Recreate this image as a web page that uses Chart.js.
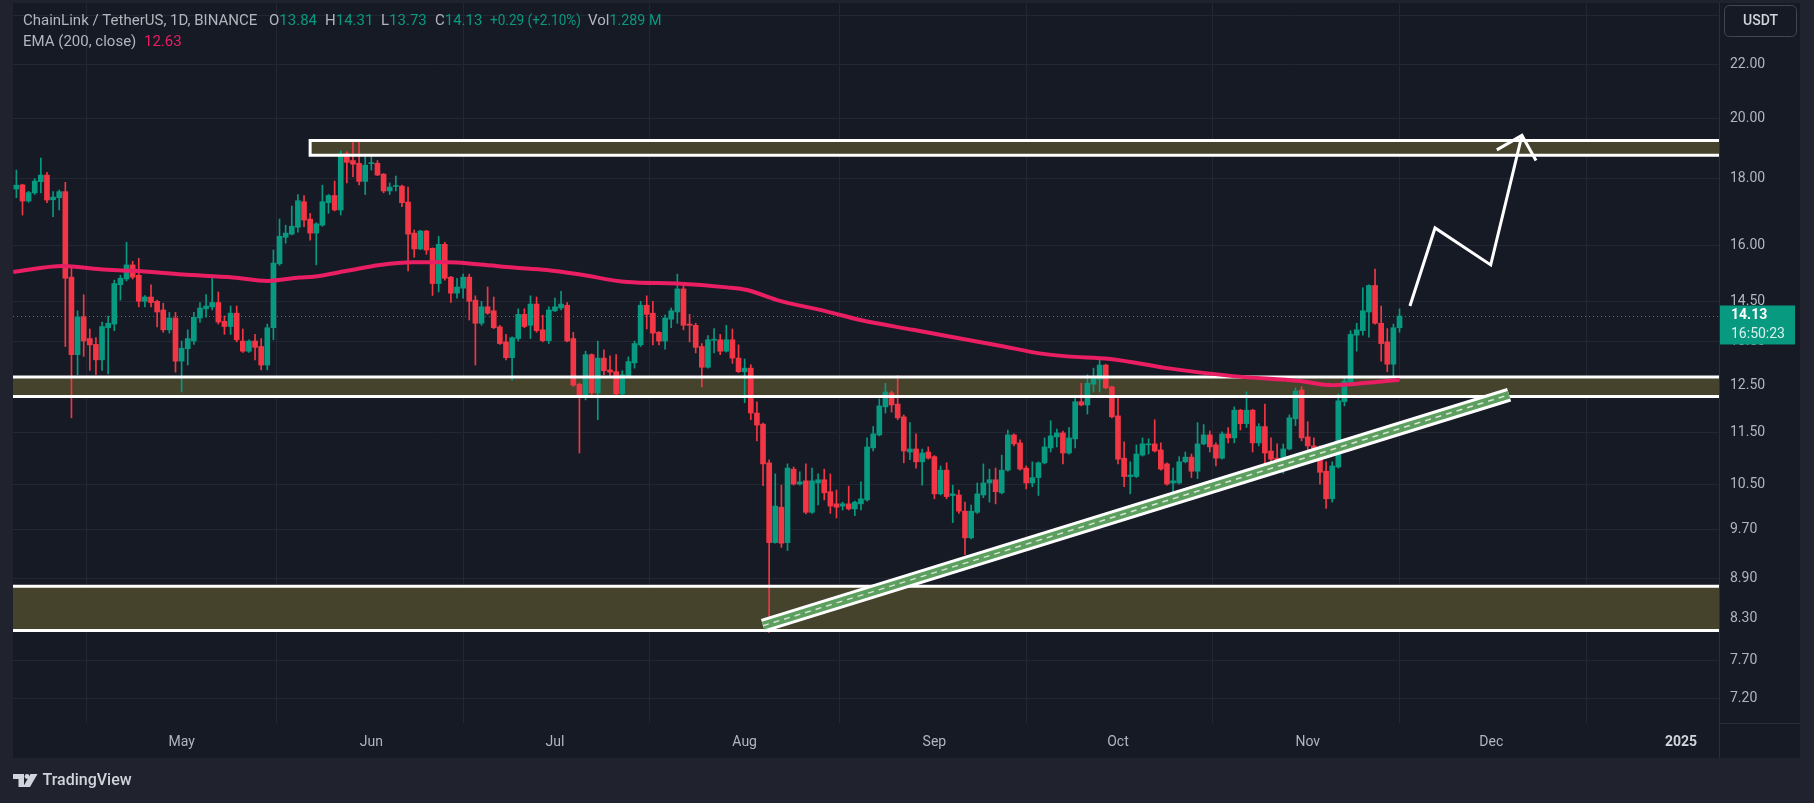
<!DOCTYPE html>
<html>
<head>
<meta charset="utf-8">
<title>ChainLink / TetherUS 1D</title>
<script src="https://cdn.jsdelivr.net/npm/chart.js@4.4.1/dist/chart.umd.min.js"></script>
<style>
  html, body { margin: 0; padding: 0; background: #20232e; overflow: hidden; }
  canvas { display: block; }
</style>
</head>
<body>
<canvas id="chart" width="1814" height="803"></canvas>
<script>
// day numbers are counted from 1 May 2024; first candle = 4 Apr 2024
const firstDay = -27;

const opens = [
  17.67,17.80,17.30,17.55,17.90,18.11,17.34,17.40,17.59,15.13,
  13.20,14.11,13.58,13.44,13.08,13.84,13.93,14.93,15.08,15.46,
  15.18,14.50,14.61,14.50,14.28,13.79,14.08,13.05,13.34,13.52,
  14.08,14.31,14.36,14.47,14.00,13.87,14.20,13.52,13.28,13.52,
  13.39,12.96,13.84,15.49,16.23,16.32,16.52,17.28,16.76,16.35,
  16.58,17.25,17.47,17.03,18.80,18.58,18.49,17.91,18.48,18.49,
  18.14,17.61,17.75,17.76,17.27,16.35,15.90,16.41,15.92,14.96,
  16.03,15.13,14.71,14.84,15.13,14.53,13.95,14.36,14.26,13.86,
  13.50,13.13,13.58,14.17,13.90,14.43,13.79,13.53,14.26,14.33,
  14.40,13.58,12.53,12.30,13.20,12.34,13.12,12.85,12.81,12.32,
  12.70,13.01,13.43,14.40,14.20,13.73,13.52,14.05,14.23,14.82,
  13.93,13.90,13.39,12.91,13.54,13.55,13.28,13.55,13.12,12.81,
  12.89,11.91,11.68,10.91,9.48,10.09,9.48,10.79,10.51,10.57,
  10.00,10.53,10.59,10.37,10.15,10.11,10.15,10.06,10.15,10.22,
  11.20,11.46,12.04,12.34,12.10,11.83,11.12,11.18,10.93,11.12,
  11.03,10.33,10.77,10.30,10.31,10.02,9.56,10.00,10.31,10.53,
  10.59,10.35,10.77,11.46,11.30,10.81,10.53,10.63,10.91,11.20,
  11.42,11.50,11.10,11.38,12.15,12.08,12.53,12.64,12.96,12.47,
  11.85,11.00,10.65,10.65,11.06,11.26,11.28,11.16,10.89,10.53,
  10.53,10.93,11.02,10.75,11.28,11.46,11.26,11.00,11.48,11.40,
  11.97,11.69,11.97,11.30,11.63,11.14,11.00,10.96,11.18,11.79,
  12.40,11.42,11.24,11.20,10.75,10.24,10.83,12.15,12.57,13.66,
  13.77,14.23,14.91,13.95,13.50,12.98,13.84
];
const highs = [
  18.27,17.82,17.60,18.00,18.66,18.20,17.59,17.64,17.88,15.37,
  14.26,14.67,13.81,13.60,13.98,14.13,15.05,15.18,16.09,15.56,
  15.64,14.65,14.93,14.53,14.45,14.22,14.22,13.52,13.79,14.22,
  14.47,14.67,15.16,14.74,14.13,14.38,14.38,13.81,13.55,13.68,
  13.58,13.93,15.87,16.76,16.58,17.15,17.50,17.47,16.93,16.65,
  17.79,17.50,17.92,18.90,18.87,19.23,19.23,18.71,18.70,18.58,
  18.16,17.86,18.08,17.79,17.73,16.44,16.43,16.43,15.93,16.26,
  16.09,15.15,15.10,15.21,15.21,14.64,14.50,14.87,14.61,13.90,
  13.68,13.62,14.31,14.31,14.64,14.61,14.15,14.36,14.58,14.76,
  14.47,13.73,12.55,13.28,13.22,13.52,13.31,13.17,13.20,12.83,
  13.15,13.52,14.50,14.64,14.50,13.75,14.15,14.33,15.21,14.93,
  14.17,13.95,13.46,13.65,13.82,13.68,13.90,13.81,13.43,13.10,
  12.97,12.15,11.70,10.97,10.70,10.49,10.89,10.83,10.74,10.89,
  10.81,10.70,10.79,10.70,10.40,10.18,10.47,10.20,10.55,11.40,
  11.63,12.21,12.55,12.38,12.72,11.87,11.71,11.48,11.18,11.22,
  11.05,10.85,10.91,10.49,10.40,10.18,10.13,10.53,10.89,10.79,
  10.81,11.06,11.56,11.48,11.36,10.85,10.93,10.93,11.40,11.75,
  11.58,11.54,11.61,12.23,12.55,12.74,12.89,13.08,12.98,12.49,
  12.25,11.32,10.93,11.26,11.40,11.38,11.77,11.30,10.91,10.81,
  11.03,11.12,11.08,11.71,11.67,11.54,11.30,11.52,11.61,12.04,
  11.99,12.36,11.99,11.69,12.10,11.40,11.28,11.28,11.87,12.45,
  12.47,11.73,11.40,11.24,10.93,10.93,12.32,12.70,13.77,13.95,
  14.85,14.93,15.35,14.38,13.82,13.93,14.31
];
const lows = [
  17.40,16.88,17.26,17.50,17.55,17.25,16.83,17.03,13.39,11.81,
  12.74,13.16,12.84,12.74,12.84,12.76,13.77,14.53,15.03,15.08,
  14.36,14.36,14.36,13.86,13.73,13.71,12.80,12.36,12.96,13.44,
  13.98,14.10,14.28,13.93,13.68,13.68,13.50,13.25,13.25,13.08,
  12.85,12.85,13.55,15.45,16.06,16.30,16.38,16.54,16.15,15.46,
  16.55,16.93,17.00,16.88,17.86,18.06,17.80,17.50,18.27,18.09,
  17.55,17.50,17.61,17.13,15.30,15.67,15.88,15.75,14.65,14.74,
  15.05,14.47,14.58,14.58,14.03,12.96,13.90,14.17,13.82,13.44,
  13.08,12.62,13.52,13.84,13.58,13.73,13.50,13.46,14.24,14.28,
  13.50,12.48,11.10,12.19,12.30,11.77,12.74,12.71,12.27,12.23,
  12.68,12.89,13.39,13.81,13.43,13.43,13.33,13.84,13.95,13.79,
  13.50,13.24,12.47,12.89,13.24,13.20,13.26,13.00,12.79,12.13,
  11.77,11.34,10.48,8.09,9.47,9.40,9.35,10.49,10.49,9.97,
  9.98,10.13,10.22,9.98,9.90,10.04,10.04,9.94,10.04,10.20,
  11.14,11.44,11.91,11.93,11.77,10.91,10.97,10.81,10.49,10.98,
  10.24,10.31,10.24,9.82,9.98,9.28,9.54,9.98,10.26,10.18,
  10.15,10.33,10.75,11.24,10.77,10.42,10.46,10.30,10.89,11.12,
  11.22,10.89,11.08,11.20,12.06,11.89,12.36,12.36,12.43,11.81,
  10.89,10.46,10.33,10.63,11.04,11.08,11.12,10.77,10.49,10.26,
  10.51,10.91,10.63,10.61,11.26,11.12,10.85,10.98,11.30,11.30,
  11.56,11.61,11.12,11.24,10.79,10.81,10.81,10.71,11.16,11.65,
  11.34,11.12,11.12,10.51,10.07,10.18,10.81,12.06,12.53,13.28,
  13.66,13.61,13.93,13.05,12.81,12.72,13.73
];
const closes = [
  17.79,17.30,17.56,17.92,18.11,17.33,17.42,17.59,15.10,13.20,
  14.11,13.52,13.43,13.08,13.87,13.95,14.96,15.10,15.46,15.13,
  14.50,14.61,14.47,14.23,13.79,14.08,13.05,13.35,13.58,14.10,
  14.33,14.38,14.47,13.98,13.87,14.20,13.55,13.28,13.52,13.37,
  12.96,13.84,15.51,16.26,16.35,16.55,17.31,16.73,16.35,16.62,
  17.28,17.47,17.03,18.80,18.52,18.46,17.91,18.43,18.50,18.11,
  17.61,17.73,17.76,17.25,16.32,15.90,16.41,15.87,14.96,16.03,
  15.10,14.71,14.87,15.13,14.50,13.95,14.36,14.20,13.84,13.46,
  13.13,13.60,14.17,13.87,14.43,13.77,13.53,14.28,14.36,14.43,
  13.52,12.51,12.30,13.20,12.34,13.12,12.83,12.80,12.32,12.74,
  13.04,13.46,14.40,14.17,13.71,13.52,14.08,14.26,14.82,13.90,
  13.90,13.37,12.91,13.55,13.55,13.28,13.55,13.12,12.81,12.89,
  11.91,11.66,10.89,9.48,10.11,9.47,10.81,10.51,10.55,10.00,
  10.57,10.59,10.35,10.11,10.09,10.15,10.06,10.18,10.24,11.22,
  11.48,12.06,12.36,12.08,11.81,11.14,11.18,10.93,11.10,11.00,
  10.33,10.77,10.28,10.33,10.02,9.56,10.02,10.33,10.53,10.59,
  10.37,10.77,11.46,11.28,10.79,10.53,10.63,10.91,11.22,11.44,
  11.50,11.10,11.40,12.15,12.08,12.55,12.66,12.96,12.45,11.83,
  10.98,10.65,10.68,11.08,11.28,11.28,11.14,10.79,10.51,10.57,
  10.93,11.02,10.75,11.28,11.46,11.22,11.00,11.48,11.40,11.97,
  11.69,11.97,11.30,11.63,11.10,10.98,10.96,11.18,11.81,12.38,
  11.40,11.24,11.18,10.73,10.24,10.85,12.17,12.60,13.68,13.79,
  14.26,14.91,13.95,13.46,12.98,13.84,14.13
];
const lastVolume = '1.289 M';
const countdown = '16:50:23';

// EMA(200) at a few points
const emaDays = [-27.5,-19.4,-13.3,-7.9,0.2,8.4,14,19.3,21.5,27,32.4,37.8,43.4,48.8,54.2,59.7,65.1,
  72.8,80.9,89.1,92.4,97.3,105.5,110.9,119.5,133.7,140.2,144.7,151.7,161,171.8,182.7,188.1,193.7,199];
const emaValues = [15.27,15.43,15.34,15.30,15.20,15.12,15.03,15.12,15.14,15.30,15.46,15.53,15.53,15.47,15.39,15.32,15.20,
  15.00,14.96,14.86,14.79,14.53,14.24,14.03,13.79,13.41,13.23,13.16,13.10,12.89,12.71,12.60,12.51,12.56,12.63];

// support / resistance zones (null start = runs in from the left edge)
const zoneTops = [19.25, 12.69, 8.78];
const zoneBottoms = [18.75, 12.26, 8.12];
const zoneStarts = [21, null, null];

// rising trend channel
const channelDays = [95, 216.9];
const channelPrices = [8.19, 12.30];

// projected path and arrow head
const pathDays = [200.7, 204.8, 213.9, 219.0];
const pathPrices = [14.38, 16.50, 15.46, 19.42];
const headDays = [214.9, 219.0, 221.3];
const headPrices = [18.93, 19.42, 18.58];

const priceTicks = [24, 22, 20, 18, 16, 14.5, 13.5, 12.5, 11.5, 10.5, 9.7, 8.9, 8.3, 7.7, 7.2];
const monthDays = [0, 31, 61, 92, 123, 153, 184, 214, 245];
const monthLabels = ['May', 'Jun', 'Jul', 'Aug', 'Sep', 'Oct', 'Nov', 'Dec', '2025'];

const UP = '#089981', DOWN = '#f23645';
const TEXT = '#b2b5be';
const FONT = 'Roboto, "Noto Sans", sans-serif';

const days = opens.map((_, i) => firstDay + i);
const colors = closes.map((c, i) => c >= opens[i] ? UP : DOWN);
const pts = (xs, ys) => xs.map((x, i) => ({ x: x, y: ys[i] }));

const chartPlugin = {
  id: 'tvLook',
  beforeDraw(chart) {
    const c = chart.ctx;
    c.save();
    c.fillStyle = '#20232e';
    c.fillRect(0, 0, chart.width, chart.height);
    c.fillStyle = '#161a25';
    c.fillRect(13, 3, 1787, 755);
    c.restore();
  },
  beforeDatasetsDraw(chart) {
    const c = chart.ctx, a = chart.chartArea, xs = chart.scales.x, ys = chart.scales.y;
    c.save();
    c.beginPath();
    c.rect(a.left, a.top, a.right - a.left, a.bottom - a.top);
    c.clip();
    c.fillStyle = '#45432b';
    zoneTops.forEach((t, i) => {
      const left = zoneStarts[i] === null ? a.left : xs.getPixelForValue(zoneStarts[i]);
      const top = ys.getPixelForValue(t), bottom = ys.getPixelForValue(zoneBottoms[i]);
      c.fillRect(left, top, a.right - left, bottom - top);
    });
    // last price line
    const yc = Math.round(ys.getPixelForValue(closes[closes.length - 1])) + 0.5;
    c.strokeStyle = UP;
    c.lineWidth = 1;
    c.setLineDash([1, 3]);
    c.beginPath();
    c.moveTo(a.left, yc);
    c.lineTo(a.right, yc);
    c.stroke();
    c.restore();
  },
  afterDatasetDraw(chart, args) {
    if (args.index !== 1) return;
    const c = chart.ctx, a = chart.chartArea, xs = chart.scales.x, ys = chart.scales.y;
    c.save();
    c.strokeStyle = '#ffffff';
    c.lineWidth = 3;
    zoneTops.forEach((t, i) => {
      const left = zoneStarts[i] === null ? a.left : xs.getPixelForValue(zoneStarts[i]);
      const top = ys.getPixelForValue(t), bottom = ys.getPixelForValue(zoneBottoms[i]);
      c.beginPath();
      if (zoneStarts[i] === null) {
        c.moveTo(a.left, top); c.lineTo(a.right, top);
        c.moveTo(a.left, bottom); c.lineTo(a.right, bottom);
      } else {
        c.moveTo(a.right, top); c.lineTo(left, top); c.lineTo(left, bottom); c.lineTo(a.right, bottom);
      }
      c.stroke();
    });
    c.restore();
  },
  afterDraw(chart) {
    const c = chart.ctx, a = chart.chartArea, ys = chart.scales.y;
    c.save();
    // separators
    c.strokeStyle = '#2a2e39';
    c.lineWidth = 1;
    c.beginPath();
    c.moveTo(a.right + 0.5, 3); c.lineTo(a.right + 0.5, 758);
    c.moveTo(a.right, a.bottom + 0.5); c.lineTo(1800, a.bottom + 0.5);
    c.stroke();

    // price scale labels
    c.textBaseline = 'middle';
    c.textAlign = 'left';
    c.font = '14px ' + FONT;
    c.fillStyle = TEXT;
    priceTicks.forEach(v => c.fillText(v.toFixed(2), a.right + 11, ys.getPixelForValue(v)));

    // header
    c.font = '15px ' + FONT;
    const n = closes.length;
    const put = (txt, x, y, col, w) => {
      c.fillStyle = col;
      if (w) c.fillText(txt, x, y, w); else c.fillText(txt, x, y);
      return x + Math.min(c.measureText(txt).width, w || 1e9);
    };
    put('ChainLink / TetherUS, 1D, BINANCE', 23, 21.7, TEXT);
    put(opens[n - 1].toFixed(2), put('O', 269, 21.7, TEXT), 21.7, UP);
    put(highs[n - 1].toFixed(2), put('H', 325, 21.7, TEXT), 21.7, UP);
    put(lows[n - 1].toFixed(2), put('L', 381, 21.7, TEXT), 21.7, UP);
    put(closes[n - 1].toFixed(2), put('C', 435, 21.7, TEXT), 21.7, UP);
    const chg = closes[n - 1] - closes[n - 2];
    put('+' + chg.toFixed(2) + ' (+' + (chg / closes[n - 2] * 100).toFixed(2) + '%)', 490, 21.7, UP, 91);
    put(lastVolume, put('Vol', 588, 21.7, TEXT), 21.7, UP, 52);
    put('EMA (200, close)', 23, 42.3, TEXT);
    put(emaValues[emaValues.length - 1].toFixed(2), 144, 42.3, '#e91e63');

    // last price label
    const yc = ys.getPixelForValue(closes[n - 1]);
    c.fillStyle = UP;
    c.fillRect(1720, yc - 10.5, 75, 39);
    c.fillStyle = '#ffffff';
    c.font = 'bold 14px ' + FONT;
    c.fillText(closes[n - 1].toFixed(2), 1731, yc);
    c.font = '14px ' + FONT;
    c.fillStyle = 'rgba(255,255,255,0.85)';
    c.fillText(countdown, 1731, yc + 18.5);

    // currency button
    c.fillStyle = '#161a25';
    c.strokeStyle = '#434651';
    c.beginPath();
    c.roundRect(1724.5, 5.5, 72, 31, 5);
    c.fill();
    c.stroke();
    c.fillStyle = '#d1d4dc';
    c.textAlign = 'center';
    c.font = '500 14px ' + FONT;
    c.fillText('USDT', 1760.5, 21.5);

    // TradingView mark
    c.textAlign = 'left';
    c.fillStyle = '#d1d4dc';
    c.fillRect(13, 774, 11, 5);
    c.fillRect(18.5, 774, 5.5, 13);
    c.beginPath();
    c.arc(27, 776.5, 2.4, 0, Math.PI * 2);
    c.fill();
    c.beginPath();
    c.moveTo(30.5, 774); c.lineTo(37.5, 774); c.lineTo(30, 787); c.lineTo(23, 787);
    c.closePath();
    c.fill();
    c.font = '500 16px ' + FONT;
    c.fillText('TradingView', 42.5, 781);
    c.restore();
  }
};

new Chart(document.getElementById('chart'), {
  type: 'bar',
  data: {
    datasets: [
      { type: 'bar', data: pts(days, lows.map((l, i) => [l, highs[i]])), backgroundColor: colors,
        barThickness: 1, grouped: false, order: 10 },
      { type: 'bar', data: pts(days, opens.map((o, i) => [o, closes[i]])), backgroundColor: colors,
        barThickness: 5, minBarLength: 1, grouped: false, order: 9 },
      { type: 'line', data: pts(emaDays, emaValues), borderColor: '#e91e63', borderWidth: 4,
        pointRadius: 0, cubicInterpolationMode: 'monotone', order: 8 },
      { type: 'line', data: pts(channelDays, channelPrices), borderColor: '#ffffff', borderWidth: 14,
        borderCapStyle: 'butt', pointRadius: 0, order: 7 },
      { type: 'line', data: pts(channelDays, channelPrices), borderColor: '#5d9f5f', borderWidth: 8,
        borderCapStyle: 'butt', pointRadius: 0, order: 6 },
      { type: 'line', data: pts(channelDays, channelPrices), borderColor: 'rgba(235,240,235,0.85)', borderWidth: 1.5,
        borderDash: [6, 5], pointRadius: 0, order: 5 },
      { type: 'line', data: pts(pathDays, pathPrices), borderColor: '#ffffff', borderWidth: 3,
        borderJoinStyle: 'miter', pointRadius: 0, order: 4 },
      { type: 'line', data: pts(headDays, headPrices), borderColor: '#ffffff', borderWidth: 3,
        borderJoinStyle: 'miter', pointRadius: 0, order: 3 }
    ]
  },
  options: {
    responsive: false,
    devicePixelRatio: 1,
    animation: false,
    events: [],
    layout: { autoPadding: false, padding: { left: 13, top: 3, right: 14, bottom: 45 } },
    plugins: { legend: { display: false }, tooltip: { enabled: false } },
    scales: {
      x: {
        type: 'linear',
        min: -27.55,
        max: 251.2,
        offset: false,
        afterBuildTicks: s => { s.ticks = monthDays.map(v => ({ value: v })); },
        afterFit: s => { s.height = 35; },
        border: { display: false },
        grid: { color: '#232733', drawTicks: false },
        ticks: {
          autoSkip: false,
          maxRotation: 0,
          padding: 11,
          color: ctx => ctx.index === 8 ? '#d1d4dc' : TEXT,
          font: ctx => ({ family: FONT, size: 14, weight: ctx.index === 8 ? 'bold' : 'normal' }),
          callback: (v, i) => monthLabels[i]
        }
      },
      y: {
        type: 'logarithmic',
        position: 'right',
        min: 6.90,
        max: 24.52,
        afterBuildTicks: s => { s.ticks = priceTicks.map(v => ({ value: v })); },
        afterFit: s => { s.width = 81; },
        border: { display: false },
        grid: { color: '#232733', drawTicks: false },
        ticks: { display: false }
      }
    }
  },
  plugins: [chartPlugin]
});
</script>
</body>
</html>
